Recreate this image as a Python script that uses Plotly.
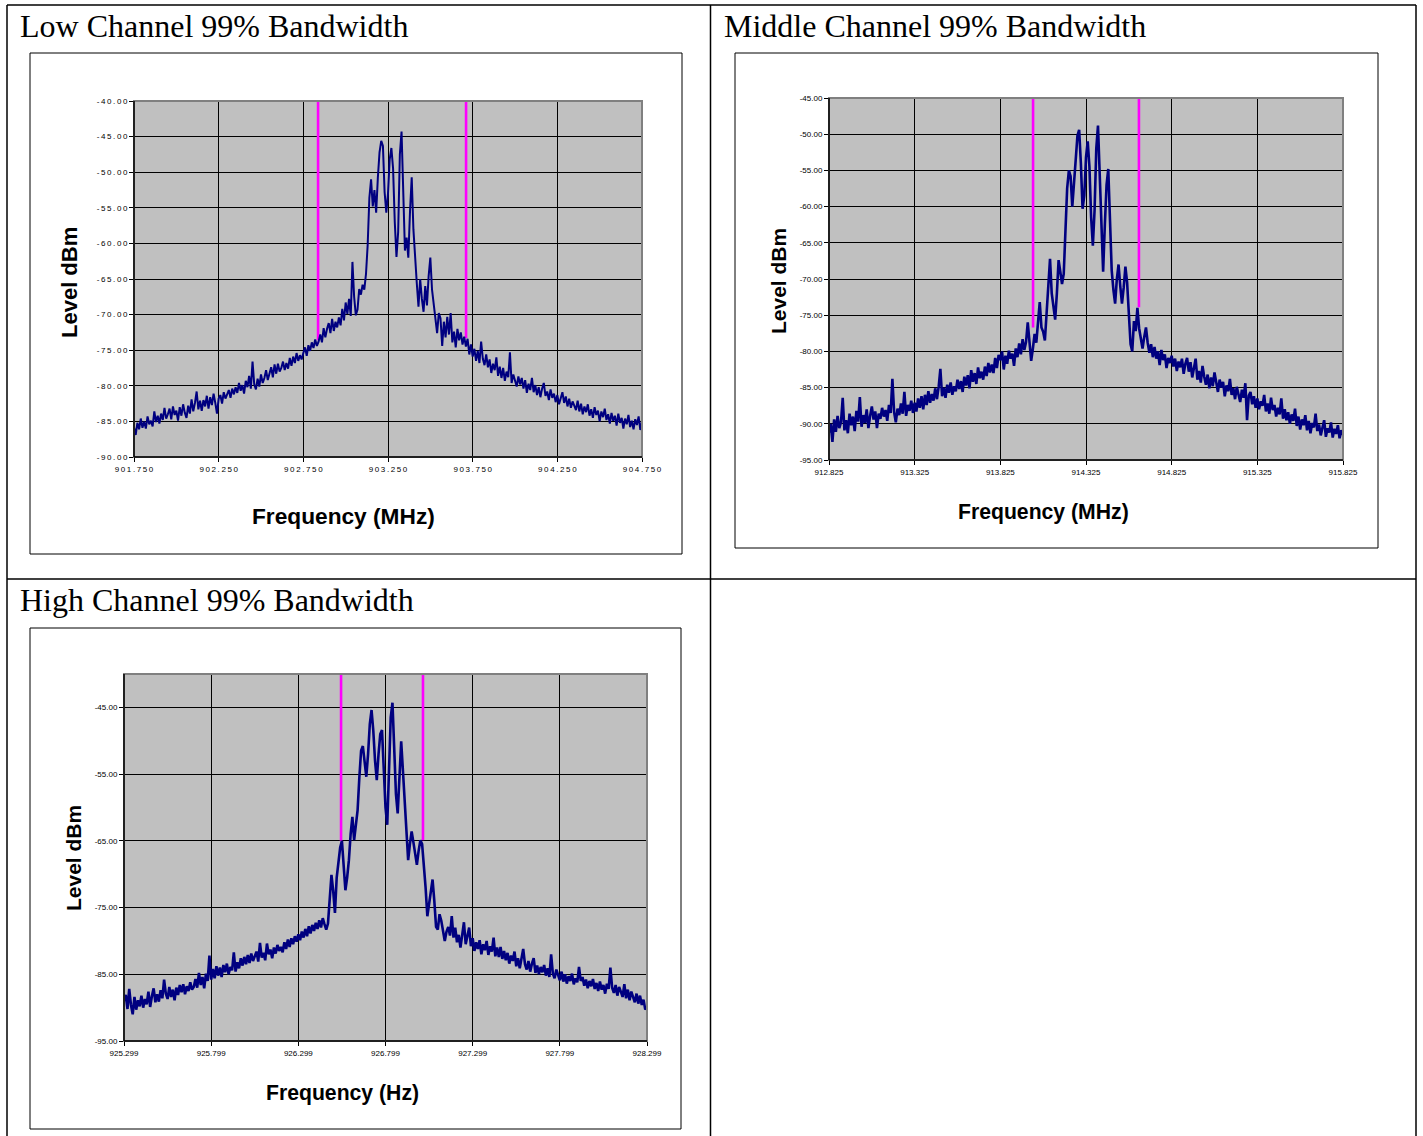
import numpy as np
import plotly.graph_objects as go

W, H = 1423, 1136

# ---------------- data (levels in dBm, one sample every 0.01 MHz) ----------------
low_start = 901.750
low_levels = [
    -85.8, -86.9, -85.2, -86.1, -84.6, -85.9, -85.0, -86.0, -84.3, -85.4,
    -84.9, -85.7, -83.6, -85.1, -84.2, -85.3, -83.9, -84.8, -83.1, -84.6,
    -84.0, -83.2, -84.7, -82.9, -84.1, -83.5, -84.9, -83.0, -84.2, -82.6,
    -83.8, -84.5, -82.8, -83.9, -81.9, -83.6, -82.4, -80.8, -83.3, -82.1,
    -83.5, -82.0, -82.9, -81.4, -83.2, -81.6, -82.7, -81.1, -82.4, -83.9,
    -81.8, -81.3, -82.5, -80.9, -81.8, -81.1, -80.6, -81.7, -80.4, -81.2,
    -80.2, -81.0, -79.6, -80.7, -79.9, -81.1, -79.3, -80.2, -78.6, -80.4,
    -76.6, -79.8, -80.5, -79.0, -80.1, -78.4, -79.6, -78.9, -77.8, -79.2,
    -78.1, -77.4, -78.8, -77.0, -78.3, -76.9, -78.0, -77.5, -76.6, -77.8,
    -76.8, -77.6, -76.1, -77.2, -75.9, -76.8, -75.4, -76.5, -75.7, -76.3,
    -75.4, -74.6, -75.8, -74.3, -75.1, -73.9, -74.7, -73.5, -74.4, -73.8,
    -72.8, -73.9, -71.9, -73.2, -72.0, -71.2, -72.6, -70.6, -72.3, -71.0,
    -71.8, -70.4, -71.5, -69.2, -70.8, -68.3, -69.9, -67.8, -70.2, -62.6,
    -67.5, -70.1, -69.3, -66.4, -67.2, -65.8, -66.5, -64.3, -60.2, -53.6,
    -51.0, -54.8, -52.5, -55.7, -50.8, -47.2, -45.6, -46.3, -52.8, -55.7,
    -53.0, -48.2, -46.6, -49.5, -57.0, -61.9, -58.4, -47.5, -44.3, -51.5,
    -61.0, -59.2, -62.0, -55.5, -50.7, -58.0, -62.3, -65.6, -68.9, -65.0,
    -67.8, -69.6, -66.0, -68.7, -64.6, -62.0, -66.5, -68.3, -70.4, -72.6,
    -69.8, -70.5, -74.4, -71.0, -73.2, -70.3, -72.8, -69.8, -73.9, -72.4,
    -74.6, -72.0, -73.6, -72.5, -74.2, -73.1, -74.5, -73.4, -75.6, -74.2,
    -75.9, -74.8, -76.5, -75.1, -76.8, -73.8, -76.2, -77.1, -75.6, -77.4,
    -76.3, -78.2, -76.9, -77.8, -76.0, -78.6, -77.3, -78.9, -77.5, -79.3,
    -78.0, -78.8, -75.3, -79.6, -78.4, -79.2, -80.1, -78.7, -79.8, -78.9,
    -80.4, -79.2, -81.0, -79.7, -80.6, -78.9, -80.9, -79.9, -81.3, -80.2,
    -81.6, -80.4, -79.6, -81.4, -80.8, -82.0, -80.5, -81.7, -81.1, -82.3,
    -81.3, -82.6, -81.7, -80.9, -82.4, -81.5, -82.9, -81.8, -83.1, -82.2,
    -82.8, -83.4, -82.1, -83.6, -82.5, -84.0, -82.9, -83.7, -82.6, -84.2,
    -83.3, -84.5, -83.0, -84.1, -83.5, -85.0, -83.6, -84.4, -83.2, -84.8,
    -84.0, -85.3, -83.8, -84.9, -84.2, -85.6, -83.9, -85.2, -84.5, -86.0,
    -84.6, -85.4, -84.1, -85.8, -84.9, -86.1, -84.7, -85.5, -84.3, -86.2, -85.0,
]

mid_start = 912.825
mid_levels = [
    -91.2, -90.0, -92.5, -89.4, -91.1, -88.9, -90.6, -89.8, -86.4, -90.9,
    -89.5, -91.3, -88.6, -90.2, -89.0, -91.0, -88.2, -89.7, -86.3, -90.4,
    -88.8, -89.9, -88.0, -90.6, -88.9, -87.6, -89.4, -88.3, -90.6, -88.6,
    -89.3, -87.8, -89.0, -88.1, -89.6, -87.4, -88.5, -83.8, -88.4, -89.8,
    -87.9, -88.8, -87.2, -88.6, -85.6, -88.9, -87.4, -88.2, -86.8, -88.5,
    -87.1, -88.3, -86.5, -87.8, -86.2, -88.0, -86.0, -87.4, -85.5, -87.1,
    -85.9, -86.8, -85.1, -86.6, -84.9, -82.4, -86.2, -85.0, -86.4, -84.6,
    -85.7, -84.3, -86.0, -84.8, -85.5, -83.9, -85.2, -84.1, -85.6, -83.5,
    -84.7, -83.3, -85.1, -82.6, -84.2, -83.0, -84.5, -82.2, -83.7, -82.8,
    -83.9, -82.1, -83.4, -81.6, -82.9, -81.8, -83.0, -80.9, -82.3, -80.5,
    -81.2, -80.0, -82.5, -80.6, -81.7, -79.9, -81.0, -80.3, -82.0, -79.6,
    -80.8, -78.9, -80.4, -78.3, -79.8, -78.7, -76.0, -79.2, -81.3, -79.6,
    -77.6, -78.8, -75.9, -73.2, -76.7, -77.3, -78.5, -74.4, -69.5, -67.2,
    -72.0, -74.3, -75.6, -72.0, -67.4, -69.0, -70.7, -69.3, -63.5, -57.5,
    -55.0, -55.8, -60.0, -57.2, -53.5, -50.2, -49.4, -54.0, -60.3, -58.5,
    -53.2, -51.0, -54.5, -61.5, -65.4, -60.5, -52.0, -48.8, -55.5, -64.0,
    -69.0, -62.5, -57.0, -54.8, -61.0, -68.8, -71.5, -73.4, -70.0, -68.0,
    -71.0, -73.4, -71.2, -68.3, -70.5, -75.0, -79.0, -80.0, -75.8, -77.2,
    -74.0, -76.8, -78.4, -79.6, -78.0, -76.7, -78.8, -80.2, -79.0, -80.8,
    -79.4, -81.0, -80.0, -81.9, -79.8, -81.2, -80.4, -82.3, -80.9, -81.6,
    -80.6, -82.1, -81.0, -82.7, -81.4, -82.2,
    -81.0, -83.1, -81.7, -80.9, -82.8, -81.5, -83.6, -82.2, -81.0, -83.9,
    -82.7, -84.3, -82.0, -83.5, -84.6, -83.2, -85.1, -83.6, -84.8, -82.9,
    -84.4, -85.6, -83.9, -85.0, -84.2, -86.2, -84.7, -85.5, -83.8, -86.0,
    -85.1, -86.6, -84.9, -85.8, -87.0, -85.3, -86.4, -84.4, -89.5, -86.1,
    -85.6, -87.3, -86.2, -87.8, -86.5, -88.0, -86.9, -87.5, -86.0, -88.3,
    -87.2, -88.6, -86.4, -88.1, -87.4, -89.0, -87.8, -88.7, -86.5, -89.3,
    -88.0, -89.5, -88.4, -90.0, -88.7, -89.6, -87.9, -90.3, -89.0, -90.8,
    -89.4, -90.2, -88.8, -90.9, -89.6, -91.3, -89.9, -90.5, -88.6, -91.0,
    -90.1, -91.6, -90.4, -89.5, -91.8, -90.6, -91.2, -89.8, -91.9, -90.7,
    -91.4, -90.2, -92.0, -90.9, -91.5,
]

high_start = 925.299
high_levels = [
    -89.0, -88.1, -90.2, -87.2, -89.6, -91.0, -88.4, -90.3, -88.9, -89.8,
    -88.2, -90.0, -88.7, -89.5, -87.6, -89.9, -88.3, -87.1, -89.2, -88.0,
    -89.1, -87.4, -88.6, -85.8, -87.9, -88.7, -86.9, -88.4, -87.3, -88.9,
    -87.0, -88.1, -86.6, -87.7, -86.5, -88.0, -86.8, -87.5, -86.2, -87.3,
    -86.9, -85.7, -87.0, -84.8, -86.6, -85.4, -87.1, -84.9, -86.0, -82.2,
    -85.8, -84.2, -85.6, -83.8, -85.2, -84.0, -85.4, -83.6, -84.7, -83.4,
    -85.0, -83.9, -84.4, -81.7, -84.6, -83.2, -84.1, -82.6, -83.7, -82.4,
    -83.5, -82.1, -83.3, -81.9, -83.0, -82.3, -81.6, -83.1, -80.3, -82.5,
    -81.8, -82.9, -80.4, -82.0, -81.3, -82.6, -81.0, -81.9, -80.6, -81.5,
    -80.9, -81.7, -80.2, -81.2, -79.8, -80.9, -79.6, -80.5, -79.3, -80.1,
    -79.0, -79.9, -78.6, -79.5, -78.2, -79.3, -77.8, -78.9, -77.6, -78.5,
    -77.3, -78.2, -76.9, -78.0, -76.6, -77.5, -78.3, -77.4, -74.0, -70.1,
    -72.5, -75.8, -70.5, -67.9, -66.0, -65.0, -68.5, -72.4, -70.5, -67.9,
    -64.0, -61.4, -64.9, -63.0, -60.4, -55.5, -51.5, -50.8, -53.0, -55.4,
    -52.0, -47.5, -45.4, -48.5, -53.0, -55.9, -52.0, -49.0, -48.4, -54.0,
    -60.0, -62.6, -54.0, -46.5, -44.3, -50.0, -58.0, -60.9, -55.0, -50.1,
    -54.5, -59.5, -65.0, -67.9, -65.5, -63.6, -65.2, -67.0, -68.6, -66.5,
    -64.9, -65.5, -68.5, -72.0, -76.3, -74.5, -72.0, -70.8, -74.0, -77.9,
    -78.3, -76.0, -77.0, -78.8, -80.0, -78.6, -77.9, -79.2, -76.3, -79.5,
    -78.0, -80.2, -79.1, -81.0, -79.4, -77.2, -80.5, -79.0, -78.0, -80.8,
    -79.6, -81.5, -80.2, -81.2, -79.9, -82.0, -80.5, -81.4, -80.0, -82.1,
    -80.8, -81.6, -79.5, -82.3, -81.0, -82.4, -80.9, -82.7, -81.5, -82.9,
    -81.8, -83.4, -82.2, -83.0, -81.6, -83.8, -82.6, -84.1, -82.9, -81.2,
    -83.5, -84.3, -83.0, -84.6, -83.4, -82.6, -84.8, -83.7, -85.0, -83.9,
    -84.7, -83.6, -85.2, -84.1, -85.4, -82.0, -84.9, -85.6, -84.3, -85.3,
    -85.9, -84.6, -86.1, -85.0, -86.4, -85.3, -86.0, -84.9, -86.5, -85.6,
    -86.2, -83.9, -86.0, -85.4, -86.7, -85.8, -87.1, -86.0, -86.8, -85.7,
    -87.2, -86.3, -87.5, -86.1, -87.3, -86.6, -87.9, -86.4, -87.2, -84.0,
    -87.0, -87.8, -86.6, -88.2, -86.9, -87.6, -88.4, -86.5, -88.6, -87.3,
    -88.9, -87.6, -88.3, -89.2, -87.9, -89.4, -88.2, -89.6, -88.8, -90.3, -89.8,
]
step_mhz = 0.01

# 99 % bandwidth edges (frequency, level where the marker meets the trace)
low_edges = [902.837, 903.711]
low_edge_levels = [-73.6, -73.3]
mid_edges = [914.016, 914.634]
mid_edge_levels = [-76.7, -73.9]
high_edges = [926.544, 927.014]
high_edge_levels = [-65.0, -64.9]

# ticks
low_xticks = [901.750, 902.250, 902.750, 903.250, 903.750, 904.250, 904.750]
low_yticks = [-90, -85, -80, -75, -70, -65, -60, -55, -50, -45, -40]
mid_xticks = [912.825, 913.325, 913.825, 914.325, 914.825, 915.325, 915.825]
mid_yticks = [-95, -90, -85, -80, -75, -70, -65, -60, -55, -50, -45]
high_xticks = [925.299, 925.799, 926.299, 926.799, 927.299, 927.799, 928.299]
high_yticks = [-95, -85, -75, -65, -55, -45]

titles = ["Low Channel 99% Bandwidth", "Middle Channel 99% Bandwidth", "High Channel 99% Bandwidth"]
x_titles = ["Frequency (MHz)", "Frequency (MHz)", "Frequency (Hz)"]
y_title = "Level dBm"

# ---------------- layout geometry (pixels) ----------------
charts = [
    dict(levels=low_levels, start=low_start, edges=low_edges, edge_lv=low_edge_levels,
         xt=low_xticks, yt=low_yticks, xr=[901.75, 904.75], yr=[-90, -40],
         plot=(134, 101, 642, 457), frame=(30, 53, 682, 554),
         ytitle=(70, 283), xtitle=(343, 516), spaced=True, lw=2.0, xts=22.7, yts=22),
    dict(levels=mid_levels, start=mid_start, edges=mid_edges, edge_lv=mid_edge_levels,
         xt=mid_xticks, yt=mid_yticks, xr=[912.825, 915.825], yr=[-95, -45],
         plot=(829, 98, 1343, 460), frame=(735, 53, 1378, 548),
         ytitle=(778, 281), xtitle=(1043, 512), spaced=False, lw=2.6, xts=21.2, yts=21),
    dict(levels=high_levels, start=high_start, edges=high_edges, edge_lv=high_edge_levels,
         xt=high_xticks, yt=high_yticks, xr=[925.299, 928.299], yr=[-95, -40],
         plot=(124, 674, 647, 1041), frame=(30, 628, 681, 1129),
         ytitle=(73, 858), xtitle=(342, 1093), spaced=False, lw=2.6, xts=21.2, yts=21),
]


def px(x):
    return x / W


def py(y):
    return 1 - y / H


def spaced(s):
    return "\u2009".join(s)


fig = go.Figure()
shapes = []
annotations = []
layout_axes = {}

for k, c in enumerate(charts):
    n = k + 1
    xa = "x" if n == 1 else f"x{n}"
    ya = "y" if n == 1 else f"y{n}"
    freqs = c["start"] + step_mhz * np.arange(len(c["levels"]))
    top = c["yr"][1]
    for f, lv in zip(c["edges"], c["edge_lv"]):
        fig.add_trace(go.Scatter(x=[f, f], y=[top, lv], mode="lines",
                                 line=dict(color="#FF00FF", width=2.6),
                                 xaxis=xa, yaxis=ya, showlegend=False, hoverinfo="skip"))
    fig.add_trace(go.Scatter(x=freqs, y=c["levels"], mode="lines",
                             line=dict(color="#000080", width=c["lw"]),
                             xaxis=xa, yaxis=ya, showlegend=False))

    x0, y0, x1, y1 = c["plot"]
    fmt = spaced if c["spaced"] else (lambda s: s)
    tick_font = dict(family="Liberation Sans, Arial, sans-serif", size=8, color="black")
    layout_axes[f"xaxis{'' if n == 1 else n}"] = dict(
        domain=[px(x0), px(x1)], anchor=ya, range=c["xr"], automargin=False,
        tickvals=c["xt"], ticktext=[fmt(f"{v:.3f}") for v in c["xt"]],
        showgrid=True, gridcolor="black", gridwidth=1, zeroline=False,
        ticks="outside", ticklen=4, tickcolor="black", tickwidth=1,
        showline=False, tickfont=tick_font, fixedrange=True)
    layout_axes[f"yaxis{'' if n == 1 else n}"] = dict(
        domain=[py(y1), py(y0)], anchor=xa, range=c["yr"], automargin=False,
        tickvals=c["yt"], ticktext=[fmt(f"{v:.2f}") for v in c["yt"]],
        showgrid=True, gridcolor="black", gridwidth=1, zeroline=False,
        ticks="outside", ticklen=4, tickcolor="black", tickwidth=1,
        showline=False, tickfont=tick_font, fixedrange=True)

    # chart frame
    fx0, fy0, fx1, fy1 = c["frame"]
    shapes.append(dict(type="rect", xref="paper", yref="paper", x0=px(fx0), x1=px(fx1),
                       y0=py(fy1), y1=py(fy0), line=dict(color="black", width=1)))
    # plot area border (grey) and black axis lines
    shapes.append(dict(type="rect", xref="paper", yref="paper", x0=px(x0), x1=px(x1),
                       y0=py(y1), y1=py(y0), line=dict(color="#808080", width=2), layer="above"))
    shapes.append(dict(type="line", xref="paper", yref="paper", x0=px(x0), x1=px(x0),
                       y0=py(y1), y1=py(y0), line=dict(color="black", width=1.5), layer="above"))
    shapes.append(dict(type="line", xref="paper", yref="paper", x0=px(x0), x1=px(x1),
                       y0=py(y1), y1=py(y1), line=dict(color="black", width=1.5), layer="above"))

    annotations.append(dict(text=f"<b>{y_title}</b>", x=px(c["ytitle"][0]), y=py(c["ytitle"][1]),
                            xref="paper", yref="paper", showarrow=False, textangle=-90,
                            font=dict(family="Liberation Sans, Arial, sans-serif", size=c["yts"], color="black"),
                            xanchor="center", yanchor="middle"))
    annotations.append(dict(text=f"<b>{x_titles[k]}</b>", x=px(c["xtitle"][0]), y=py(c["xtitle"][1]),
                            xref="paper", yref="paper", showarrow=False,
                            font=dict(family="Liberation Sans, Arial, sans-serif", size=c["xts"], color="black"),
                            xanchor="center", yanchor="middle"))

# cell titles
for text, (tx, ty) in zip(titles, [(18, 26), (722, 26), (18, 600)]):
    annotations.append(dict(text=text, x=px(tx), y=py(ty), xref="paper", yref="paper",
                            showarrow=False, xanchor="left", yanchor="middle",
                            font=dict(family="Liberation Serif, Times New Roman, serif", size=32, color="black")))

# table borders
tbl = dict(color="black", width=1.5)
for (ax0, ay0, ax1, ay1) in [(7, 5, 1416, 5), (7, 579, 1416, 579), (7, 5, 7, 1136),
                             (710.5, 5, 710.5, 1136), (1416, 5, 1416, 1136)]:
    shapes.append(dict(type="line", xref="paper", yref="paper", x0=px(ax0), x1=px(ax1),
                       y0=py(ay0), y1=py(ay1), line=tbl))

fig.update_layout(template="none", width=W, height=H, autosize=False,
                  margin=dict(l=0, r=0, t=0, b=0, pad=0, autoexpand=False),
                  paper_bgcolor="white", plot_bgcolor="#C0C0C0", showlegend=False,
                  shapes=shapes, annotations=annotations, **layout_axes)

fig.write_html("out.html", config={"displayModeBar": False},
               post_script="document.body.style.margin='0';document.body.style.overflow='hidden';")
